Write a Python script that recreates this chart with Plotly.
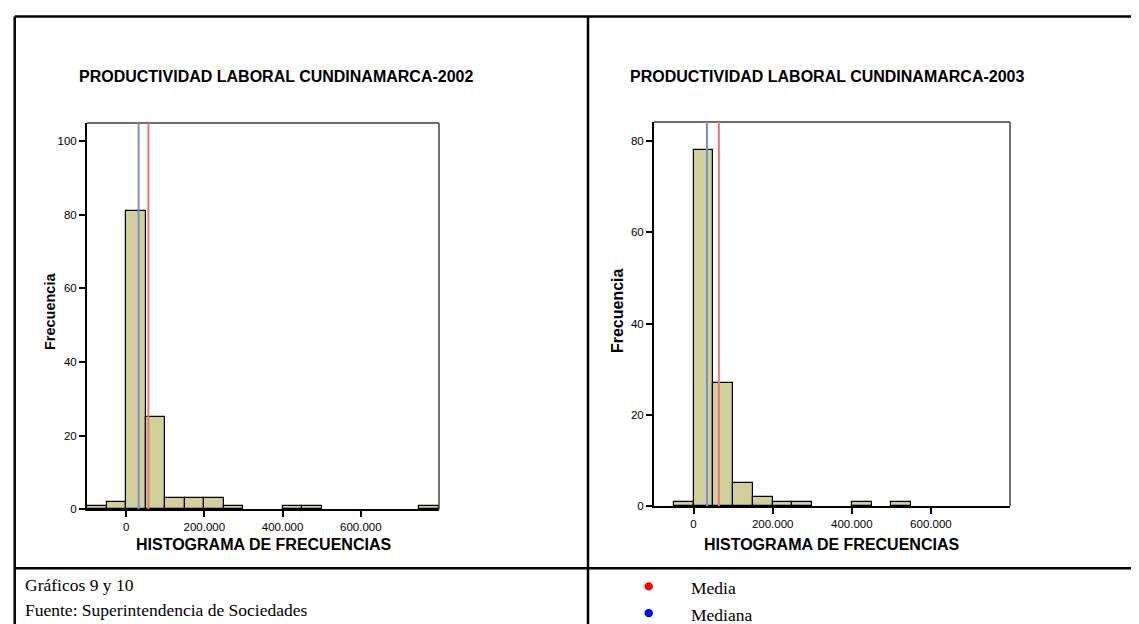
import plotly.graph_objects as go

# ── Data ──────────────────────────────────────────────────────────────────────
BIN_WIDTH = 50000
bin_starts = [-100000, -50000, 0, 50000, 100000, 150000, 200000, 250000, 300000,
              350000, 400000, 450000, 500000, 550000, 600000, 650000, 700000, 750000]

counts_2002 = [1, 2, 81, 25, 3, 3, 3, 1, 0, 0, 1, 1, 0, 0, 0, 0, 0, 1]
counts_2003 = [0, 1, 78, 27, 5, 2, 1, 1, 0, 0, 1, 0, 1, 0, 0, 0, 0, 0]

mean_2002, median_2002 = 57000, 32000
mean_2003, median_2003 = 64000, 34000

x_tickvals = [0, 200000, 400000, 600000]
x_ticktext = ["0", "200.000", "400.000", "600.000"]
y_ticks_2002 = [0, 20, 40, 60, 80, 100]
y_ticks_2003 = [0, 20, 40, 60, 80]

titles = ["PRODUCTIVIDAD LABORAL CUNDINAMARCA-2002",
          "PRODUCTIVIDAD LABORAL CUNDINAMARCA-2003"]

# ── Page geometry helpers (pixels -> paper fractions) ─────────────────────────
W, H = 1139, 624
SANS = "Liberation Sans, Arial, sans-serif"
SERIF = "Liberation Serif, Times New Roman, serif"
BAR_COLOR = "#d3cf9a"
MEAN_COLOR = "#e8777a"
MEDIAN_COLOR = "#7b8fd0"


def px(x):
    return x / W


def py(y):
    return 1 - y / H


def label(text, x, y, size, family=SANS, anchor="center", angle=0):
    # text placed by pixel position on the page, anchored explicitly
    fig.add_annotation(text=text, x=px(x), y=py(y), xref="paper", yref="paper",
                       xanchor=anchor, yanchor="middle", showarrow=False,
                       textangle=angle, font=dict(family=family, size=size, color="black"))


fig = go.Figure()

panels = [
    dict(counts=counts_2002, mean=mean_2002, median=median_2002, yticks=y_ticks_2002,
         yrange=[0, 105], xdom=[79, 431], ydom=[116, 506], xa="x", ya="y",
         title_x=268, xtitle_x=255, ytitle_x=42, ytitle_size=14.5),
    dict(counts=counts_2003, mean=mean_2003, median=median_2003, yticks=y_ticks_2003,
         yrange=[0, 84.2], xdom=[646, 1002], ydom=[115, 503], xa="x2", ya="y2",
         title_x=819, xtitle_x=823, ytitle_x=609, ytitle_size=16),
]

axis_font = dict(family=SANS, size=11.5, color="black")

for i, p in enumerate(panels):
    xs = [s for s, c in zip(bin_starts, p["counts"]) if c > 0]
    ys = [c for c in p["counts"] if c > 0]
    fig.add_trace(go.Bar(
        x=xs, y=ys, width=BIN_WIDTH, offset=0,
        marker=dict(color=BAR_COLOR, line=dict(color="black", width=1.2)),
        xaxis=p["xa"], yaxis=p["ya"], showlegend=False, hoverinfo="x+y",
    ))

    sfx = "" if i == 0 else "2"
    fig.update_layout(**{
        f"xaxis{sfx}": dict(
            domain=[px(p["xdom"][0]), px(p["xdom"][1])], anchor=p["ya"],
            range=[-100000, 800000], tickvals=x_tickvals, ticktext=x_ticktext,
            ticks="outside", ticklen=6, tickwidth=1.5, tickcolor="black",
            showline=True, linecolor="black", linewidth=2,
            showgrid=False, zeroline=False, tickfont=axis_font,
        ),
        f"yaxis{sfx}": dict(
            domain=[py(p["ydom"][1]), py(p["ydom"][0])], anchor=p["xa"],
            range=p["yrange"], tickvals=p["yticks"],
            ticks="outside", ticklen=6, tickwidth=1.5, tickcolor="black",
            showline=True, linecolor="black", linewidth=2,
            showgrid=False, zeroline=False, tickfont=axis_font,
        ),
    })

    # top / right frame of the plot box
    fig.add_shape(type="line", xref=f"{p['xa']} domain", yref=f"{p['ya']} domain",
                  x0=0, x1=1, y0=1, y1=1, line=dict(color="#6e6e6e", width=2))
    fig.add_shape(type="line", xref=f"{p['xa']} domain", yref=f"{p['ya']} domain",
                  x0=1, x1=1, y0=0, y1=1, line=dict(color="#444", width=1.5))

    # median & mean reference lines
    for val, col in [(p["median"], MEDIAN_COLOR), (p["mean"], MEAN_COLOR)]:
        fig.add_shape(type="line", xref=p["xa"], yref=f"{p['ya']} domain",
                      x0=val, x1=val, y0=0, y1=1, line=dict(color=col, width=2))

    label(f"<b>{titles[i]}</b>", p["title_x"], 69, 16)
    label("<b>HISTOGRAMA DE FRECUENCIAS</b>", p["xtitle_x"], 542, 16)
    label("<b>Frecuencia</b>", p["ytitle_x"], 306, p["ytitle_size"], angle=-90)

# ── Table frame ──────────────────────────────────────────────────────────────
table_lines = [
    (6.7, 8.7, W, 8.7),      # top
    (6.7, 8.7, 6.7, H),      # left
    (580, 8.7, 580, H),      # middle divider
    (6.7, 565.7, W, 565.7),  # caption row separator
]
for x0, y0, x1, y1 in table_lines:
    fig.add_shape(type="line", xref="paper", yref="paper",
                  x0=px(x0), y0=py(y0), x1=px(x1), y1=py(y1),
                  line=dict(color="black", width=2.5))

# ── Caption row ──────────────────────────────────────────────────────────────
label("Gráficos 9 y 10", 15, 583, 17.5, family=SERIF, anchor="left")
label("Fuente: Superintendencia de Sociedades", 15, 608, 17.5, family=SERIF, anchor="left")

for txt, col, y in [("Media", "red", 586), ("Mediana", "blue", 613)]:
    label(txt, 681, y, 17.5, family=SERIF, anchor="left")
    fig.add_shape(type="circle", xref="paper", yref="paper",
                  x0=px(636.5), x1=px(645), y0=py(y - 2 + 4.2), y1=py(y - 2 - 4.2),
                  fillcolor=col, line=dict(width=0))

fig.update_layout(
    width=W, height=H,
    margin=dict(l=0, r=0, t=0, b=0),
    paper_bgcolor="white", plot_bgcolor="white",
    bargap=0,
)

fig.write_html("out.html")
